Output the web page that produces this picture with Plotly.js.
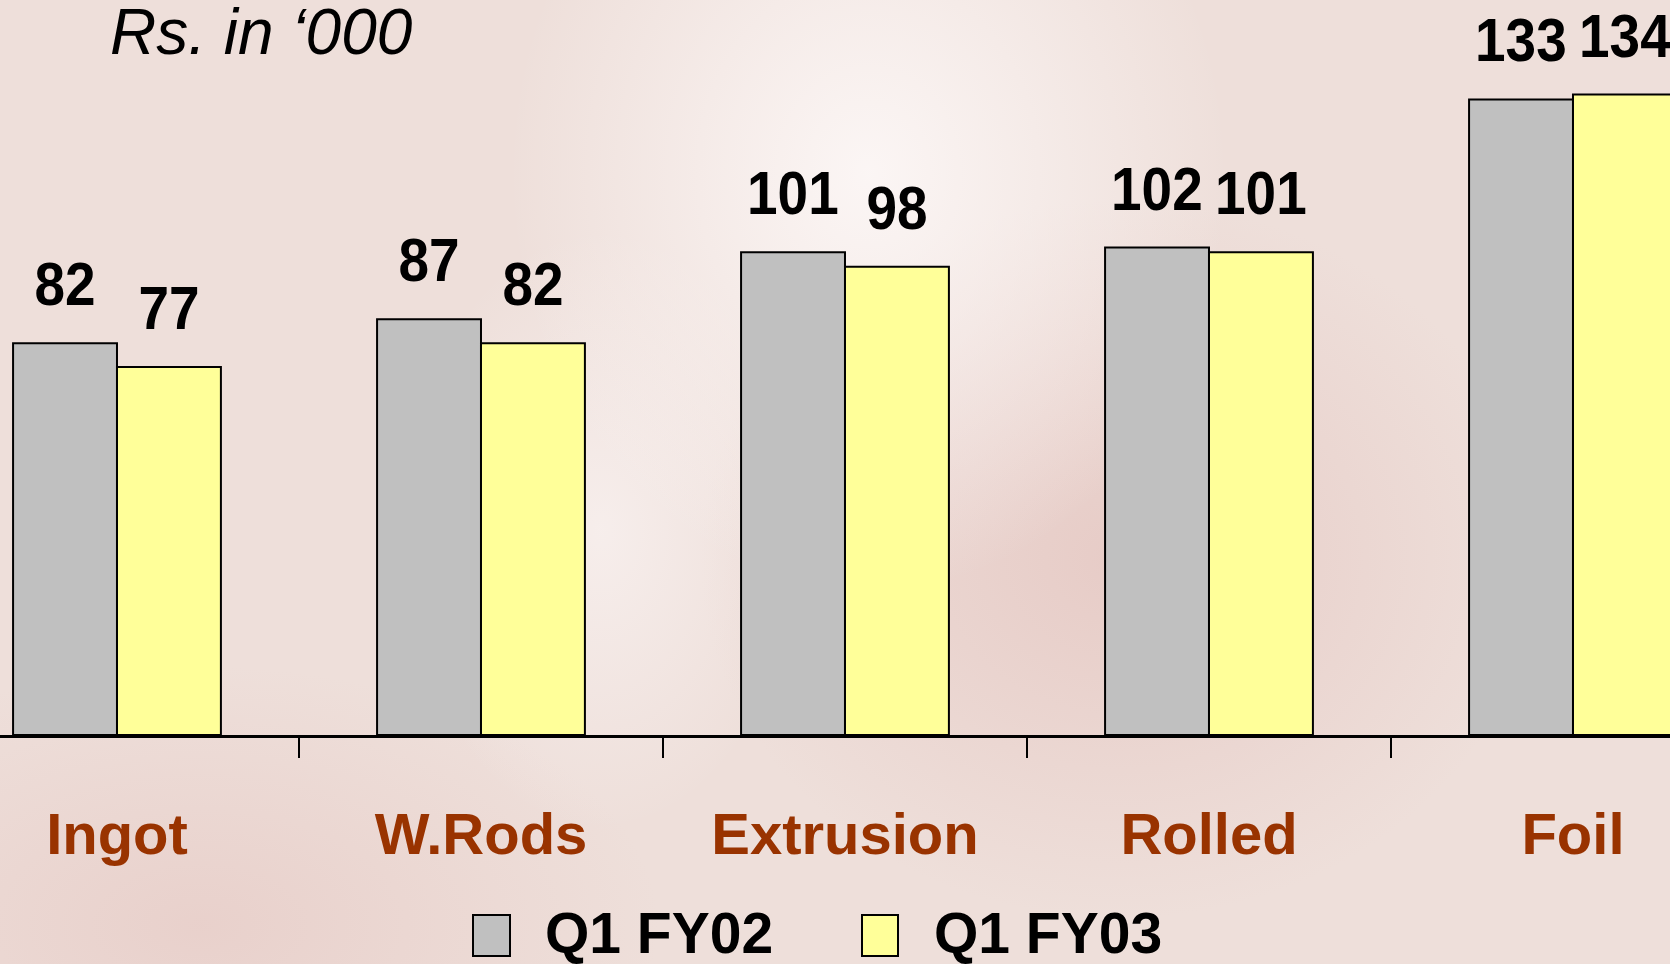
<!DOCTYPE html>
<html>
<head>
<meta charset="utf-8">
<script src="https://cdn.plot.ly/plotly-3.0.1.min.js"></script>
<style>
  html, body { margin: 0; padding: 0; width: 1670px; height: 964px; overflow: hidden; }
  body {
    background:
      radial-gradient(ellipse 360px 420px at 52% 18%, rgba(252,247,246,0.95), rgba(252,247,246,0) 100%),
      radial-gradient(ellipse 200px 300px at 36% 55%, rgba(250,244,243,0.7), rgba(250,244,243,0) 100%),
      radial-gradient(ellipse 420px 360px at 67% 58%, rgba(222,180,175,0.45), rgba(222,180,175,0) 100%),
      radial-gradient(ellipse 460px 260px at 12% 96%, rgba(220,175,170,0.3), rgba(220,175,170,0) 100%),
      #EEDFDA;
  }
  #chart { width: 1670px; height: 964px; }
</style>
</head>
<body>
<div id="chart"></div>
<script>
// ---- data ----
const categories = ["Ingot", "W.Rods", "Extrusion", "Rolled", "Foil"];
const seriesNames = ["Q1 FY02", "Q1 FY03"];
const q1fy02 = [82, 87, 101, 102, 133];
const q1fy03 = [77, 82, 98, 101, 134];
const chartTitle = "Rs. in \u2018000";

// ---- styles ----
const colors = ["#C0C0C0", "#FFFF99"];
const mainFont = "'Liberation Sans', Arial, Helvetica, sans-serif";
const barShift = 52;      // px half-offset between grouped bars
const labelSqueeze = 0.9; // horizontal condensing of value labels

const seriesValues = [q1fy02, q1fy03];

const traces = seriesValues.map((vals, i) => ({
  type: "bar",
  name: seriesNames[i],
  x: categories,
  y: vals,
  marker: { color: colors[i], line: { color: "#000000", width: 2 } },
  hoverinfo: "none",
  showlegend: false
}));

const annotations = [];
seriesValues.forEach((vals, i) => {
  vals.forEach((v, j) => {
    annotations.push({
      x: categories[j], y: v, xref: "x", yref: "y",
      text: String(v), showarrow: false,
      xanchor: "center", yanchor: "bottom",
      xshift: i === 0 ? -barShift : barShift, yshift: 23,
      font: { family: mainFont, size: 61, color: "#000000", weight: 700 }
    });
  });
});
const nValueLabels = annotations.length;

// legend (custom, large swatches)
const shapes = [];
const legendPos = [
  { sx0: 473, sx1: 510, tx: 543 },
  { sx0: 862, sx1: 898, tx: 932 }
];
const plotH = 735, W = 1670;
const py = p => (plotH - p) / plotH;
seriesNames.forEach((nm, i) => {
  const L = legendPos[i];
  shapes.push({
    type: "rect", xref: "paper", yref: "paper",
    x0: L.sx0 / W, x1: L.sx1 / W, y0: py(915), y1: py(956),
    fillcolor: colors[i], line: { color: "#000000", width: 2 }
  });
  annotations.push({
    xref: "paper", yref: "paper", x: L.tx / W, y: py(933),
    xanchor: "left", yanchor: "middle", showarrow: false, text: nm,
    font: { family: mainFont, size: 57, color: "#000000", weight: 700 }
  });
});

const layout = {
  width: 1670, height: 964,
  margin: { l: 0, r: 0, t: 0, b: 229, pad: 0 },
  paper_bgcolor: "rgba(0,0,0,0)",
  plot_bgcolor: "rgba(0,0,0,0)",
  barmode: "group",
  bargap: 0.429,
  bargroupgap: 0,
  showlegend: false,
  title: {
    text: chartTitle, x: 110 / 1670, xanchor: "left",
    y: 1 - 32 / 964, yref: "container", yanchor: "middle",
    font: { family: mainFont, size: 64, color: "#000000", style: "italic" }
  },
  xaxis: {
    type: "category",
    range: [-0.3214, 4.2665],
    showline: true, linecolor: "#000000", linewidth: 2.5,
    ticks: "outside", ticklen: 20, tickwidth: 2, tickcolor: "#000000",
    tickson: "boundaries",
    ticklabelstandoff: 47,
    tickfont: { family: mainFont, size: 58, color: "#993300", weight: 700 },
    showgrid: false, zeroline: false, fixedrange: true
  },
  yaxis: {
    range: [0, 153.8],
    visible: false, showgrid: false, zeroline: false, fixedrange: true
  },
  annotations: annotations,
  shapes: shapes
};

Plotly.newPlot("chart", traces, layout, { displayModeBar: false, staticPlot: true }).then(gd => {
  // condense the value labels horizontally (narrow bold look of the original)
  gd.querySelectorAll("g.annotation").forEach(g => {
    const idx = +g.getAttribute("data-index");
    if (idx >= nValueLabels) return;
    const t = g.querySelector("text.annotation-text");
    if (!t) return;
    const bb = t.getBBox();
    const cx = bb.x + bb.width / 2;
    t.setAttribute("transform", `translate(${cx},0) scale(${labelSqueeze},1) translate(${-cx},0)`);
  });
});
</script>
</body>
</html>
